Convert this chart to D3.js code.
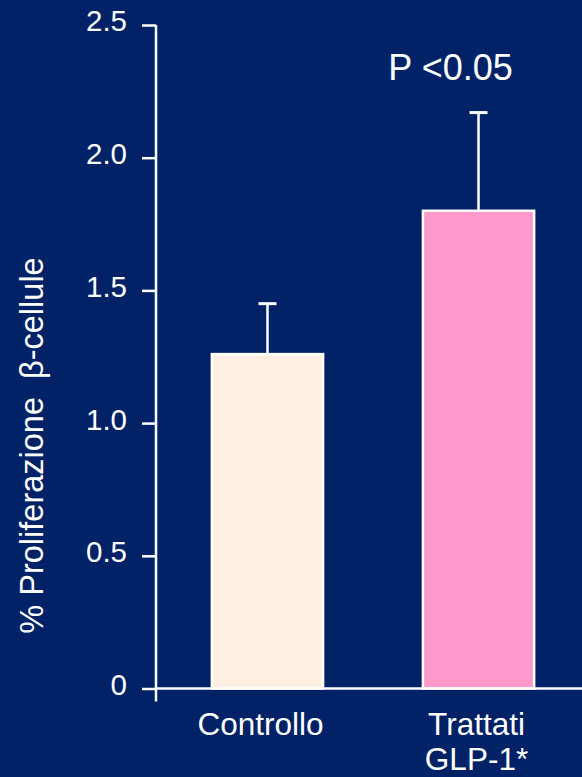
<!DOCTYPE html>
<html>
<head>
<meta charset="utf-8">
<script src="https://cdn.jsdelivr.net/npm/d3@7"></script>
<style>
  html, body { margin: 0; padding: 0; background: #012266; }
  svg { display: block; }
  text { font-family: "Liberation Sans", Arial, sans-serif; fill: #ffffff; }
</style>
</head>
<body>
<svg id="chart" width="582" height="777"></svg>
<script>
// Beta-cell proliferation, control vs GLP-1 treated
const categories = ["Controllo", "Trattati GLP-1*"];
const categoryLines = [["Controllo"], ["Trattati", "GLP-1*"]];
const values = [1.26, 1.80];
const errorTops = [1.45, 2.17];
const barColors = ["#fff0e3", "#ff99cc"];
const yTicks = [0, 0.5, 1.0, 1.5, 2.0, 2.5];
const yTickLabels = ["0", "0.5", "1.0", "1.5", "2.0", "2.5"];
const yTitle = "% Proliferazione  \u03b2-cellule";
const annotation = "P <0.05";

const svg = d3.select("#chart");
const W = 582, H = 777;

svg.append("rect").attr("width", W).attr("height", H).attr("fill", "#012266");

const y = d3.scaleLinear().domain([0, 2.5]).range([688.5, 25]);
const x = d3.scaleBand().domain(categories).range([157, 589])
  .paddingInner(0.473).paddingOuter(0.26);

const axisX = 156;

// bars
svg.selectAll("rect.bar").data(categories).enter().append("rect")
  .attr("class", "bar")
  .attr("x", d => x(d))
  .attr("y", (d, i) => y(values[i]))
  .attr("width", x.bandwidth())
  .attr("height", (d, i) => y(0) - y(values[i]))
  .attr("fill", (d, i) => barColors[i])
  .attr("stroke", "#ffffff")
  .attr("stroke-width", 2.5);

// error bars (upper whisker only)
const capHalf = 9;
const eb = svg.selectAll("g.err").data(categories).enter().append("g").attr("class", "err");
eb.append("line")
  .attr("x1", d => x(d) + x.bandwidth() / 2)
  .attr("x2", d => x(d) + x.bandwidth() / 2)
  .attr("y1", (d, i) => y(values[i]))
  .attr("y2", (d, i) => y(errorTops[i]))
  .attr("stroke", "#ffffff").attr("stroke-width", 2.5);
eb.append("line")
  .attr("x1", d => x(d) + x.bandwidth() / 2 - capHalf)
  .attr("x2", d => x(d) + x.bandwidth() / 2 + capHalf)
  .attr("y1", (d, i) => y(errorTops[i]))
  .attr("y2", (d, i) => y(errorTops[i]))
  .attr("stroke", "#ffffff").attr("stroke-width", 3);

// y axis
const yAxis = d3.axisLeft(y).tickValues(yTicks)
  .tickFormat((d, i) => yTickLabels[i]).tickSize(14).tickPadding(15);
const gy = svg.append("g").attr("transform", `translate(${axisX},0)`).call(yAxis);
gy.select(".domain").remove();
gy.selectAll(".tick line").attr("stroke", "#ffffff").attr("stroke-width", 2.5);
gy.selectAll(".tick text")
  .attr("fill", "#ffffff")
  .style("font-size", "29.5px")
  .attr("dy", "0.2em");
gy.append("line")
  .attr("x1", 0).attr("x2", 0)
  .attr("y1", y(2.5)).attr("y2", y(0) + 13)
  .attr("stroke", "#ffffff").attr("stroke-width", 2.5);

// x baseline
svg.append("line")
  .attr("x1", axisX).attr("x2", W)
  .attr("y1", y(0)).attr("y2", y(0))
  .attr("stroke", "#ffffff").attr("stroke-width", 2.5);

// category labels
const labelOffsets = [-7, -2];
categories.forEach((c, i) => {
  const t = svg.append("text")
    .attr("text-anchor", "middle")
    .style("font-size", "31.5px");
  categoryLines[i].forEach((ln, j) => {
    t.append("tspan")
      .attr("x", x(c) + x.bandwidth() / 2 + labelOffsets[i])
      .attr("y", 735 + j * 35)
      .text(ln);
  });
});

// y title
svg.append("text")
  .attr("transform", `translate(43,${445.5}) rotate(-90)`)
  .attr("text-anchor", "middle")
  .style("font-size", "32.5px")
  .style("white-space", "pre")
  .attr("xml:space", "preserve")
  .text(yTitle);

// significance note
svg.append("text")
  .attr("x", x(categories[1]) + x.bandwidth() / 2 - 28)
  .attr("y", 80)
  .attr("text-anchor", "middle")
  .style("font-size", "36px")
  .style("white-space", "pre")
  .text(annotation);
</script>
</body>
</html>
